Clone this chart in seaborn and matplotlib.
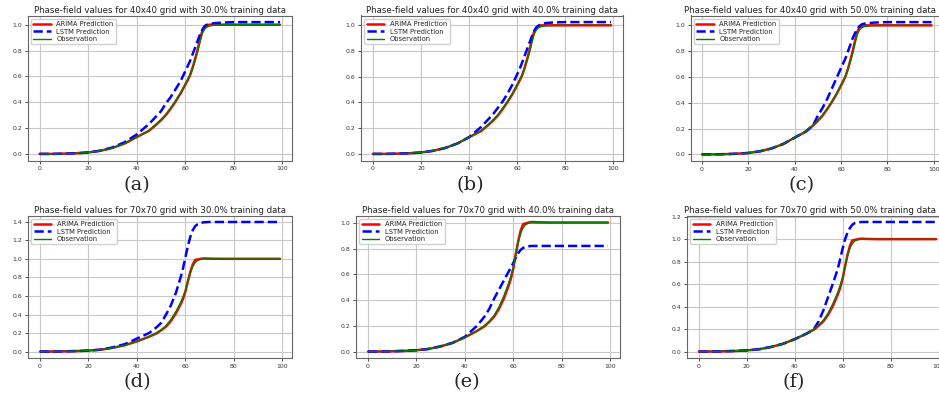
import matplotlib
matplotlib.use("Agg")
import matplotlib.pyplot as plt
import seaborn as sns

# sample positions (time steps) shared by every series
X = [0, 5, 10, 15, 20, 25, 30, 35, 40, 45, 48, 50, 52, 54, 56, 58, 59, 60, 61,
     62, 63, 64, 65, 66, 67, 68, 69, 70, 72, 75, 80, 85, 90, 95, 99]

# 40x40 grid
OBS_40 = [0.0, 0.0, 0.002, 0.005, 0.011, 0.024, 0.046, 0.08, 0.13, 0.18, 0.23, 0.265,
          0.305, 0.355, 0.41, 0.47, 0.505, 0.54, 0.575, 0.61, 0.66, 0.72, 0.785, 0.86,
          0.93, 0.965, 0.982, 0.99, 0.996, 0.999, 1.0, 1.0, 1.0, 1.0, 1.0]
ARIMA_40 = [0.0, 0.0, 0.002, 0.005, 0.011, 0.024, 0.046, 0.08, 0.13, 0.178, 0.225, 0.26,
            0.3, 0.35, 0.405, 0.465, 0.5, 0.535, 0.57, 0.61, 0.665, 0.73, 0.8, 0.88,
            0.95, 0.985, 0.995, 1.0, 1.0, 1.0, 1.0, 1.0, 1.0, 1.0, 1.0]
LSTM_A = [0.0, 0.0, 0.002, 0.005, 0.011, 0.025, 0.05, 0.09, 0.15, 0.23, 0.29, 0.33,
          0.39, 0.44, 0.5, 0.56, 0.6, 0.64, 0.68, 0.72, 0.77, 0.82, 0.87, 0.92,
          0.96, 0.99, 1.0, 1.005, 1.012, 1.016, 1.02, 1.02, 1.02, 1.02, 1.02]
LSTM_B = [0.0, 0.0, 0.002, 0.005, 0.011, 0.024, 0.046, 0.08, 0.13, 0.21, 0.27, 0.31,
          0.36, 0.41, 0.47, 0.54, 0.58, 0.62, 0.66, 0.71, 0.76, 0.81, 0.86, 0.91,
          0.955, 0.985, 1.0, 1.01, 1.018, 1.022, 1.025, 1.025, 1.025, 1.025, 1.025]
LSTM_C = [0.0, 0.0, 0.002, 0.005, 0.011, 0.024, 0.046, 0.08, 0.13, 0.18, 0.23, 0.3,
          0.36, 0.43, 0.51, 0.59, 0.63, 0.67, 0.71, 0.75, 0.8, 0.85, 0.9, 0.94,
          0.975, 0.995, 1.008, 1.013, 1.018, 1.022, 1.025, 1.025, 1.025, 1.025, 1.025]

# 70x70 grid
OBS_70 = [0.0, 0.0, 0.002, 0.005, 0.01, 0.02, 0.04, 0.068, 0.11, 0.16, 0.2, 0.235,
          0.28, 0.345, 0.43, 0.53, 0.59, 0.66, 0.76, 0.85, 0.92, 0.96, 0.985, 0.995,
          1.0, 1.0, 1.0, 1.0, 1.0, 1.0, 1.0, 1.0, 1.0, 1.0, 1.0]
ARIMA_70 = [0.0, 0.0, 0.002, 0.005, 0.01, 0.02, 0.04, 0.068, 0.11, 0.16, 0.195, 0.23,
            0.27, 0.33, 0.41, 0.51, 0.57, 0.65, 0.76, 0.86, 0.94, 0.99, 0.995, 1.0,
            1.005, 1.006, 1.005, 1.004, 1.003, 1.002, 1.002, 1.002, 1.002, 1.002, 1.002]
LSTM_D = [0.0, 0.0, 0.002, 0.005, 0.01, 0.02, 0.045, 0.08, 0.14, 0.2, 0.26, 0.31,
          0.4, 0.5, 0.63, 0.8, 0.9, 1.02, 1.14, 1.24, 1.31, 1.355, 1.375, 1.388,
          1.394, 1.397, 1.399, 1.4, 1.4, 1.4, 1.4, 1.4, 1.4, 1.4, 1.4]
LSTM_E = [0.0, 0.0, 0.002, 0.005, 0.01, 0.02, 0.04, 0.068, 0.115, 0.2, 0.27, 0.33,
          0.41, 0.48, 0.55, 0.62, 0.655, 0.69, 0.73, 0.765, 0.79, 0.805, 0.813, 0.817,
          0.819, 0.82, 0.82, 0.82, 0.82, 0.82, 0.82, 0.82, 0.82, 0.82, 0.82]
LSTM_F = [0.0, 0.0, 0.002, 0.005, 0.01, 0.02, 0.04, 0.068, 0.11, 0.16, 0.2, 0.27,
          0.37, 0.49, 0.61, 0.74, 0.83, 0.92, 1.0, 1.06, 1.1, 1.13, 1.145, 1.15,
          1.153, 1.155, 1.155, 1.155, 1.155, 1.155, 1.155, 1.155, 1.155, 1.155, 1.155]

PANELS = [
    ("40x40", "30.0", ARIMA_40, LSTM_A, OBS_40, "(a)"),
    ("40x40", "40.0", ARIMA_40, LSTM_B, OBS_40, "(b)"),
    ("40x40", "50.0", ARIMA_40, LSTM_C, OBS_40, "(c)"),
    ("70x70", "30.0", ARIMA_70, LSTM_D, OBS_70, "(d)"),
    ("70x70", "40.0", ARIMA_70, LSTM_E, OBS_70, "(e)"),
    ("70x70", "50.0", ARIMA_70, LSTM_F, OBS_70, "(f)"),
]

# axes boxes in pixels: left, right, top, bottom; sub-label centre x, y; title x
W, H = 939, 397
BOXES = [
    (27.5, 292, 15.5, 160.5, 137, 185, 0.5),
    (361, 623, 15.5, 160.5, 470, 185, 0.5),
    (690.5, 943, 15.5, 161, 802, 185, 0.475),
    (28, 292, 215.5, 358, 137, 382, 0.5),
    (356, 620, 215.5, 358, 467, 382, 0.5),
    (687, 948, 215.5, 358, 794, 382, 0.472),
]

sns.set_style("whitegrid")
plt.rcParams["font.family"] = ["DejaVu Sans"]

fig = plt.figure(figsize=(W / 100, H / 100), dpi=100)

for (grid, pct, arima, lstm, obs, tag), (l, r, t, b, lx, ly, tx) in zip(PANELS, BOXES):
    ax = fig.add_axes([l / W, 1 - b / H, (r - l) / W, (b - t) / H])
    sns.lineplot(x=X, y=arima, ax=ax, color="red", linewidth=1.8, label="ARIMA Prediction")
    sns.lineplot(x=X, y=lstm, ax=ax, color="blue", linewidth=1.8, linestyle="--",
                 label="LSTM Prediction")
    sns.lineplot(x=X, y=obs, ax=ax, color="green", linewidth=1.0, label="Observation")
    ax.set_title(f"Phase-field values for {grid} grid with {pct}% training data",
                 fontsize=6.2, pad=1.8, color="#222222", x=tx)
    ax.set_xticks([0, 20, 40, 60, 80, 100])
    ax.tick_params(labelsize=4.4, length=2.5, width=0.6, pad=1.5, colors="#333333",
                   left=True, bottom=True)
    ax.grid(True, color="#c8c8c8", linewidth=0.8)
    for s in ax.spines.values():
        s.set_color("#666666")
        s.set_linewidth(0.8)
    ax.legend(loc="upper left", fontsize=4.9, handlelength=2.6, frameon=True,
              borderpad=0.35, labelspacing=0.2, framealpha=0.9, edgecolor="#cccccc",
              fancybox=True)
    fig.text(lx / W, 1 - ly / H, tag, ha="center", va="center", fontsize=14,
             family="DejaVu Serif")

fig.savefig("out.png", dpi=100)
